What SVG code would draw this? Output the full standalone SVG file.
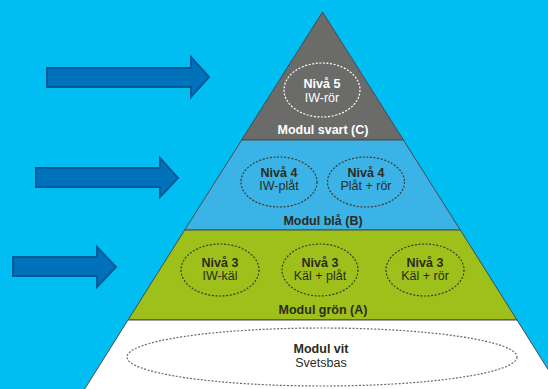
<svg xmlns="http://www.w3.org/2000/svg" width="548" height="389" viewBox="0 0 548 389">
<style>
.tier{stroke:#4a4a4a;stroke-width:1}
.ell{fill:none;stroke:#3a3a2a;stroke-width:1.2;stroke-dasharray:2 1.6}
.ellw{fill:none;stroke:#ffffff;stroke-width:1.2;stroke-dasharray:2 1.6}
.ellg{fill:none;stroke:#6a6a6a;stroke-width:1.2;stroke-dasharray:2 1.6}
text{font-family:"Liberation Sans",Arial,sans-serif;text-anchor:middle;font-size:12.5px}
.b{font-weight:bold}
.dk{fill:#2b2b1e}
.wt{fill:#ffffff}
.arrow{fill:#0072BC;stroke:#005A98;stroke-width:2;stroke-linejoin:miter}
</style>
<rect x="0" y="0" width="548" height="389" fill="#00BEF2"/>
<g id="connectors">
<polygon class="arrow" points="47,68 191,68 191,57 209,77 191,97 191,87 47,87"/>
<polygon class="arrow" points="36,168 160,168 160,158 178,178 160,197 160,187 36,187"/>
<polygon class="arrow" points="13,257 97,257 97,247 116,267 97,287 97,276 13,276"/>
</g>
<g id="tier-c">
<polygon class="tier" fill="#6B6B69" points="322.5,12 241.6,140 403.4,140"/>
<ellipse class="ellw" cx="322" cy="90" rx="38" ry="27"/>
<text class="b wt" x="322" y="88">Nivå 5</text>
<text class="wt" x="322" y="102">IW-rör</text>
<text class="b wt" x="323" y="134">Modul svart (C)</text>
</g>
<g id="tier-b">
<polygon class="tier" fill="#3BB3E6" points="241.6,140 403.4,140 460.3,230 184.7,230"/>
<ellipse class="ell" cx="279" cy="182" rx="38" ry="25"/>
<text class="b dk" x="279" y="177">Nivå 4</text>
<text class="dk" x="279" y="190">IW-plåt</text>
<ellipse class="ell" cx="366" cy="182" rx="38.5" ry="25"/>
<text class="b dk" x="366" y="177">Nivå 4</text>
<text class="dk" x="366" y="190">Plåt + rör</text>
<text class="b dk" x="323" y="225">Modul blå (B)</text>
</g>
<g id="tier-a">
<polygon class="tier" fill="#9DC01A" points="184.7,230 460.3,230 517,320 128,320"/>
<ellipse class="ell" cx="220" cy="270" rx="39" ry="26"/>
<text class="b dk" x="220" y="267">Nivå 3</text>
<text class="dk" x="220" y="280">IW-käl</text>
<ellipse class="ell" cx="320" cy="270" rx="38" ry="26"/>
<text class="b dk" x="320" y="267">Nivå 3</text>
<text class="dk" x="320" y="280">Käl + plåt</text>
<ellipse class="ell" cx="425" cy="270" rx="39" ry="26"/>
<text class="b dk" x="425" y="267">Nivå 3</text>
<text class="dk" x="425" y="280">Käl + rör</text>
<text class="b dk" x="323" y="314">Modul grön (A)</text>
</g>
<g id="tier-base">
<polygon class="tier" fill="#ffffff" points="128,320 517,320 561,390 84,390"/>
<ellipse class="ellg" cx="322" cy="357" rx="195" ry="29"/>
<text class="b dk" x="321" y="353">Modul vit</text>
<text class="dk" x="321" y="367">Svetsbas</text>
</g>
</svg>
